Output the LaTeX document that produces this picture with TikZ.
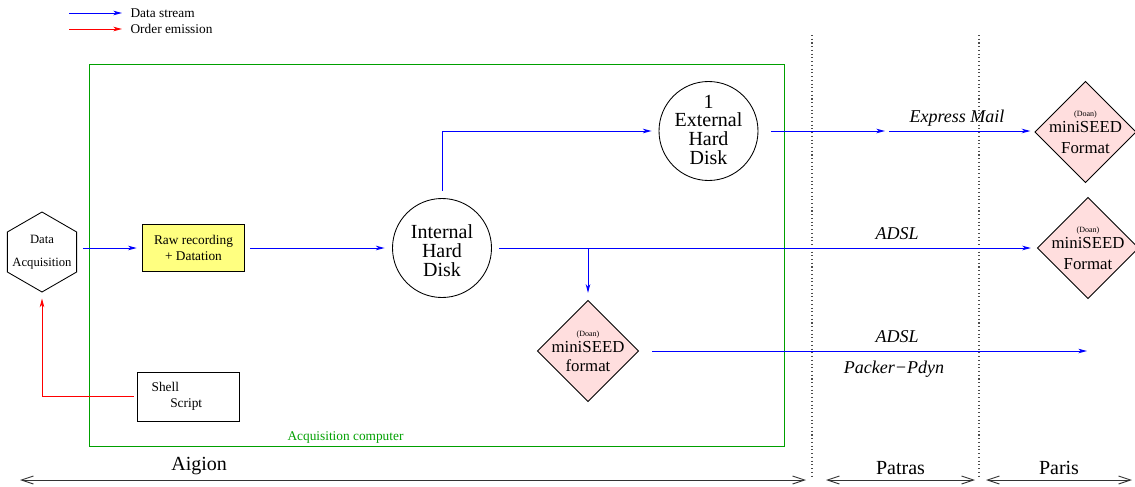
\documentclass[tikz,border=0pt]{standalone}
\usepackage{fontspec}
\setmainfont{Liberation Serif}
\usetikzlibrary{arrows.meta,positioning,shapes.geometric,calc}
\definecolor{stream}{HTML}{0000FF}
\definecolor{order}{HTML}{FF0000}
\definecolor{compc}{HTML}{00A000}
\definecolor{rawc}{HTML}{FFFF80}
\definecolor{seedc}{HTML}{FFDEDE}
\tikzset{
  data/.style={-{Stealth[length=6.5pt,width=3.4pt,inset=1.8pt]},line width=0.75pt,draw=stream},
  order/.style={-{Stealth[length=6.5pt,width=3.4pt,inset=1.8pt]},line width=0.75pt,draw=order},
  span/.style={{Straight Barb[length=9pt,width=6pt]}-{Straight Barb[length=9pt,width=6pt]},line width=0.7pt,draw=black!80},
  border/.style={draw=black!70,dotted,line width=0.8pt},
  legend/.style={font=\fontsize{10}{12}\selectfont,inner xsep=1pt,anchor=west},
  box/.style={draw,line width=0.65pt,font=\fontsize{10}{12}\selectfont,align=center},
  disk/.style={circle,draw,line width=0.65pt,minimum size=74.25pt,inner sep=0pt},
  disktext/.style={font=\fontsize{15}{14.5}\selectfont,align=center,inner sep=0pt},
  seed/.style={diamond,draw,fill=seedc,line width=0.65pt,minimum size=76pt,inner sep=0pt},
  seedtext/.style={font=\fontsize{12.6}{15.5}\selectfont,align=center,inner sep=0pt},
  link/.style={font=\fontsize{13.5}{15}\selectfont\itshape},
  region/.style={font=\fontsize{15}{17}\selectfont},
}
\newcommand{\doan}{{\fontsize{6}{7}\selectfont (Doan)}}

\begin{document}
\begin{tikzpicture}[x=0.75pt,y=-0.75pt]
  \useasboundingbox (0,0) rectangle (1135,486);
  % legend
  \node[legend] (lgdata) at (129,13) {Data stream};
  \node[legend] (lgorder) at (129,29) {Order emission};
  \draw[data] ([xshift=-45pt]lgdata.west) -- ([xshift=-5.25pt]lgdata.west);
  \draw[order] ([xshift=-45pt]lgorder.west) -- ([xshift=-5.25pt]lgorder.west);

  % acquisition computer
  \node[draw=compc,line width=0.75pt,minimum width=521.25pt,minimum height=286.5pt] (comp) at (436.5,255) {};
  \node[font=\fontsize{10}{12}\selectfont,text=compc] (complbl) at (345.5,437) {Acquisition computer};

  % sites
  \coordinate (patop) at (812,35);  \coordinate (pabot) at (812,478);
  \coordinate (prtop) at (979,35);  \coordinate (prbot) at (979,478);
  \draw[border] (patop) -- (pabot);
  \draw[border] (prtop) -- (prbot);
  \coordinate (aigw) at (20,480);  \coordinate (aige) at (806,480);
  \coordinate (patw) at (826,480); \coordinate (pate) at (975,480);
  \coordinate (parw) at (986,480); \coordinate (pare) at (1132,480);
  \draw[span] (aigw) -- node[region,above,pos=0.228]{Aigion} (aige);
  \draw[span] (patw) -- node[region,above]{Patras} (pate);
  \draw[span] (parw) -- node[region,above]{Paris} (pare);

  % blocks
  \node[regular polygon,regular polygon sides=6,shape border rotate=30,draw,line width=0.65pt,minimum size=60pt,inner sep=0pt,
        label={[font=\fontsize{9.5}{11}\selectfont,align=center,inner sep=0pt]center:{Data\\[6pt]Acquisition}}] (acq) at (42,252) {};
  \node[box,fill=rawc,minimum width=77pt,minimum height=35pt] (raw) at (193.5,248) {Raw recording\\+ Datation};
  \node[box,align=left,minimum width=76.5pt,minimum height=36.75pt,inner xsep=11pt,text width=54.5pt] (shell) at (188,396.5) {Shell\\\hspace*{14pt}Script};
  \node[disk,label={[disktext,yshift=-2pt]center:{Internal\\Hard\\Disk}}] (int) at (442,248) {};
  \node[disk,label={[disktext,font=\fontsize{15}{14}\selectfont,yshift=1pt]center:{1\\External\\Hard\\Disk}}] (ext) at (708.5,131) {};
  \node[seed,label={[seedtext]center:{\doan\\[-3pt]miniSEED\\Format}}] (d1) at (1085.5,132) {};
  \node[seed,label={[seedtext]center:{\doan\\[-3pt]miniSEED\\Format}}] (d2) at (1088,248) {};
  \node[seed,label={[seedtext,font=\fontsize{12.6}{14}\selectfont]center:{\doan\\[-2pt]miniSEED\\format}}] (d3) at (588,351) {};

  % data streams
  \draw[data,shorten <=4.5pt,shorten >=3.75pt] (raw.west -| acq.east) -- (raw.west);
  \draw[data,shorten <=3.75pt,shorten >=5.6pt] (raw.east) -- (raw.east -| int.west);
  \draw[data,shorten <=5.6pt,shorten >=5.25pt] (int.north) |- (ext.west);
  \draw[data,shorten <=5.6pt,shorten >=4.5pt] (int.east) -- (d2.west);
  \coordinate (split) at (int.east -| d3.north);
  \draw[data,shorten >=5.25pt] (split) -- (d3.north);
  \coordinate (relay) at (885,131);
  \draw[data,shorten <=9.75pt] (ext.east) -- (relay);
  \draw[data,shorten >=3pt] ([xshift=3pt]relay) -- (relay -| d1.west);
  \coordinate (adslend) at (1087,351);
  \draw[data,shorten <=9.75pt] (d3.east) -- (adslend);
  \node[link] (mail) at (957,118) {Express Mail};
  \node[link] (adsla) at (897,234) {ADSL};
  \node[link] (adslb) at (897,337) {ADSL};
  \node[link] (packer) at (894,369) {Packer−Pdyn};

  % orders
  \draw[order,shorten <=2.25pt,shorten >=4.5pt] (shell.west) -| (acq.south);
\end{tikzpicture}
\end{document}
